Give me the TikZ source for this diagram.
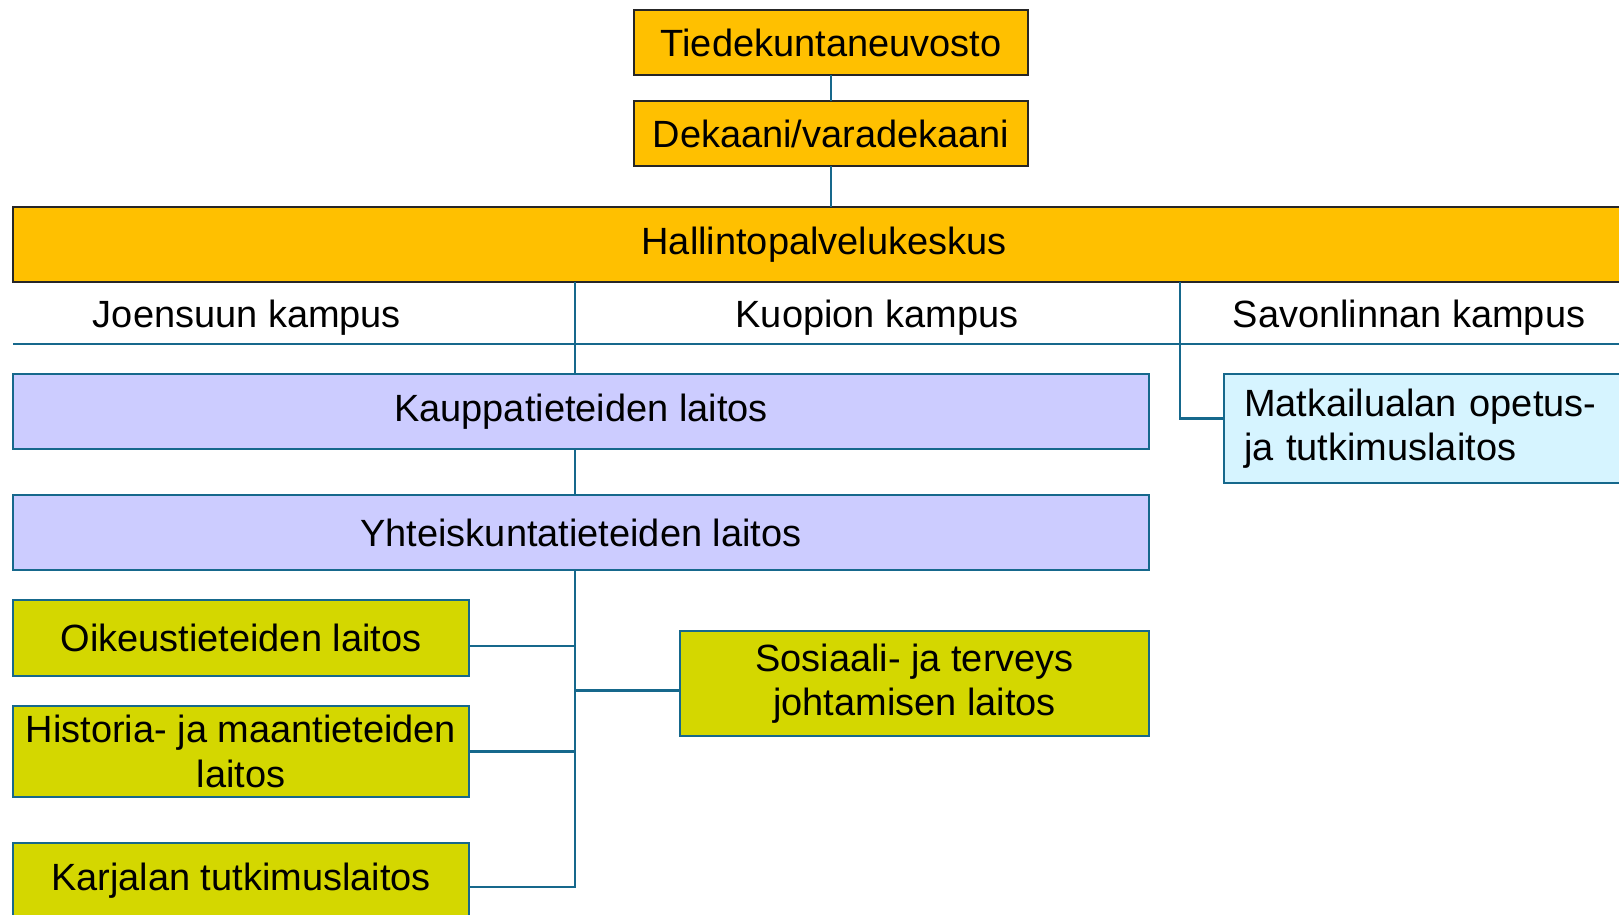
\documentclass[tikz,border=0pt]{standalone}
\usepackage{fontspec}
\setmainfont{Liberation Sans}
\usepackage{xcolor}
\usetikzlibrary{positioning, calc}
\definecolor{oranssi}{RGB}{255, 192, 0}
\definecolor{violetti}{RGB}{204, 204, 255}
\definecolor{keltavihrea}{RGB}{212, 215, 0}
\definecolor{syaani}{RGB}{214, 244, 255}
\definecolor{reuna}{RGB}{22, 104, 140}

\begin{document}
\begin{tikzpicture}[
    txt/.style={font=\fontsize{10.8}{12.6}\selectfont, inner sep=0pt, outer sep=0pt},
    johto/.style={txt, rectangle, draw=black!85, fill=oranssi, line width=0.6pt, align=center},
    laitos/.style={txt, rectangle, draw=reuna, fill=violetti, line width=0.6pt, minimum width=11.36cm, minimum height=0.75cm, align=center},
    yksikko/.style={txt, rectangle, draw=reuna, fill=keltavihrea, line width=0.6pt, align=center},
    linja/.style={reuna, line width=0.6pt}
]
\useasboundingbox (0,0) rectangle (16.19,-9.14);
\node[johto, minimum width=3.94cm, minimum height=0.65cm] (tdk) at (8.31,-0.425) {Tiedekuntaneuvosto};
\node[johto, minimum width=3.94cm, minimum height=0.65cm, below=0.26cm of tdk] (dek) {Dekaani/varadekaani};
\node[johto, minimum width=16.22cm, minimum height=0.75cm, below=0.41cm of dek, xshift=-0.07cm] (hal) {Hallintopalvelukeskus};

\node[txt] (jk) at (2.47,-3.18) {Joensuun kampus};
\node[txt] (kk) at (8.77,-3.18) {Kuopion kampus};
\node[txt] (sk) at (14.09,-3.18) {Savonlinnan kampus};

\node[laitos, below=0.92cm of hal.south west, anchor=north west] (kau) {Kauppatieteiden laitos};
\node[laitos, below=0.46cm of kau] (yht) {Yhteiskuntatieteiden laitos};
\node[txt, rectangle, draw=reuna, fill=syaani, line width=0.6pt, text width=3.76cm, inner xsep=0.2cm, minimum height=1.09cm, align=left, right=0.75cm of kau.north east, anchor=north west] (mat) {Matkailualan opetus-\\ja tutkimuslaitos};

\node[yksikko, minimum width=4.56cm, minimum height=0.76cm, below=0.30cm of yht.south west, anchor=north west] (oik) {Oikeustieteiden laitos};
\node[yksikko, minimum width=4.56cm, minimum height=0.91cm, below=0.30cm of oik.south west, anchor=north west] (his) {Historia- ja maantieteiden\\laitos};
\node[yksikko, minimum width=4.56cm, minimum height=0.76cm, below=0.46cm of his.south west, anchor=north west] (kar) {Karjalan tutkimuslaitos};
\node[yksikko, minimum width=4.69cm, minimum height=1.05cm, below=0.61cm of yht.south east, anchor=north east] (sos) {Sosiaali- ja terveys\\johtamisen laitos};

\coordinate (j1) at (5.75,-2.82);
\coordinate (j2) at (11.80,-2.82);
\coordinate (cl) at (0.13,-3.44);
\coordinate (cr) at (16.30,-3.44);

\draw[linja] (tdk) -- (dek);
\draw[linja] (dek.south) -- (dek.south |- hal.north);
\draw[linja] (cl) -- (cr);
\draw[linja] (j1) -- (j1 |- kau.north);
\draw[linja] (j1 |- kau.south) -- (j1 |- yht.north);
\draw[linja] (j2) |- ([yshift=0.1cm]mat.west);
\draw[linja] (j1 |- yht.south) |- ([yshift=-0.06cm]kar.east);
\draw[linja] ([yshift=-0.08cm]oik.east) -- ([yshift=-0.08cm]oik.east -| j1);
\draw[linja] (his.east) -- (his.east -| j1);
\draw[linja] ([yshift=-0.07cm]sos.west) -- ([yshift=-0.07cm]sos.west -| j1);
\end{tikzpicture}
\end{document}
